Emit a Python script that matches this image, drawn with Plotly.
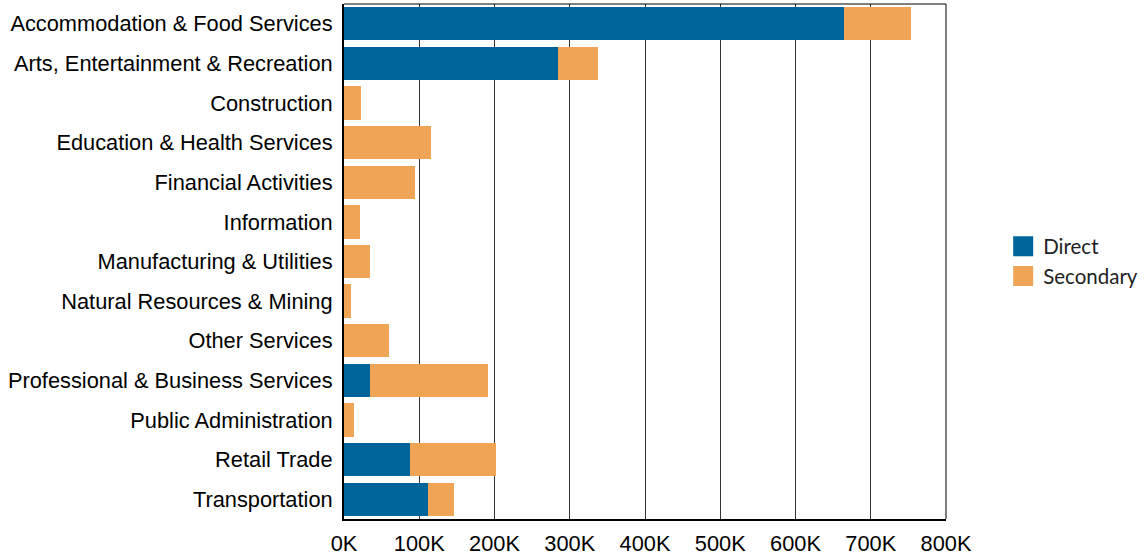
import plotly.graph_objects as go

categories = [
    "Accommodation & Food Services",
    "Arts, Entertainment & Recreation",
    "Construction",
    "Education & Health Services",
    "Financial Activities",
    "Information",
    "Manufacturing & Utilities",
    "Natural Resources & Mining",
    "Other Services",
    "Professional & Business Services",
    "Public Administration",
    "Retail Trade",
    "Transportation",
]
direct = [664000, 284000, 0, 0, 0, 0, 0, 0, 0, 34500, 0, 88000, 111500]
secondary = [89000, 53000, 22500, 115000, 95000, 21000, 34500, 9000, 60000, 156500, 13000, 114000, 34500]

tick_vals = [0, 100000, 200000, 300000, 400000, 500000, 600000, 700000, 800000]
tick_text = ["0K", "100K", "200K", "300K", "400K", "500K", "600K", "700K", "800K"]

series_names = ["Direct", "Secondary"]
blue = "#00659A"
orange = "#F0A455"

fig = go.Figure()
fig.add_trace(go.Bar(y=categories, x=direct, name=series_names[0], orientation="h",
                     marker=dict(color=blue, line=dict(width=0)), showlegend=False))
fig.add_trace(go.Bar(y=categories, x=secondary, name=series_names[1], orientation="h",
                     marker=dict(color=orange, line=dict(width=0)), showlegend=False))
# legend entries with larger square swatches
for nm, col in zip(series_names, [blue, orange]):
    fig.add_trace(go.Scatter(x=[None], y=[None], mode="markers", name=nm,
                             marker=dict(symbol="square", size=16, color=col,
                                         line=dict(color=col, width=4)),
                             showlegend=True, hoverinfo="skip"))

fig.update_layout(
    width=1146, height=557,
    barmode="stack", bargap=0.16,
    plot_bgcolor="white", paper_bgcolor="white",
    margin=dict(l=344, r=200, t=4, b=38, pad=0, autoexpand=False),
    font=dict(family="Liberation Sans, Arial, sans-serif", size=21.8, color="black"),
    legend=dict(x=1.095, xanchor="left", y=0.5, yanchor="middle",
                traceorder="normal",
                font=dict(family="Lato, sans-serif", size=20.5, color="#222"),
                itemwidth=30),
    showlegend=True,
)
fig.update_xaxes(range=[0, 800000], tickvals=tick_vals, ticktext=tick_text,
                 showgrid=True, gridcolor="#333", gridwidth=1,
                 showline=True, linecolor="black", linewidth=2,
                 ticks="", zeroline=False, ticklabelstandoff=4, automargin=False)
fig.update_yaxes(autorange="reversed", showgrid=False,
                 showline=True, linecolor="black", linewidth=2,
                 ticks="", ticklabelstandoff=5, automargin=False)
fig.add_shape(type="line", xref="paper", yref="paper", x0=0, x1=1, y0=1, y1=1,
              line=dict(color="black", width=1))
fig.add_shape(type="line", xref="paper", yref="paper", x0=1, x1=1, y0=0, y1=1,
              line=dict(color="black", width=1))

fig.write_html("out.html", config={"displayModeBar": False},
               post_script="document.body.style.margin='0';document.body.style.padding='0';")
